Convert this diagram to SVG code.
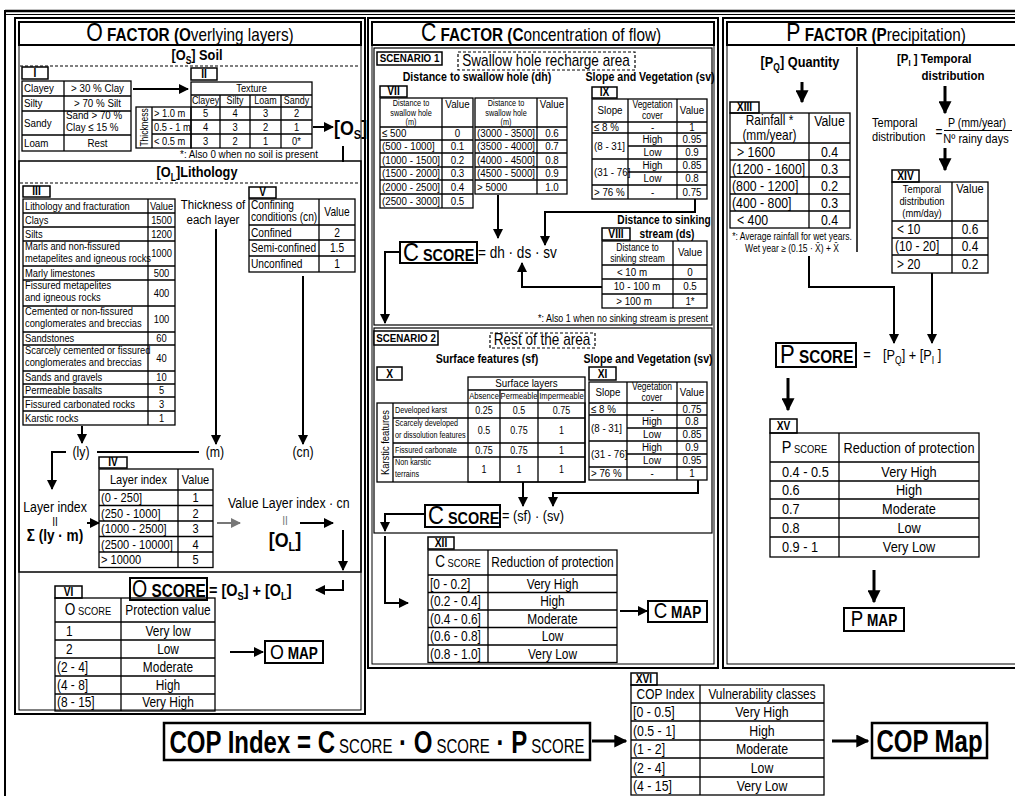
<svg xmlns="http://www.w3.org/2000/svg" width="1015" height="796" viewBox="0 0 1015 796">
<defs>
<style>
text{font-family:"Liberation Sans",Arial,Helvetica,sans-serif;fill:#000;text-anchor:middle;transform-box:fill-box;transform-origin:50% 50%;transform:scaleX(.85)}
.s{text-anchor:start;transform-origin:0 50%}
.e{text-anchor:end;transform-origin:100% 50%}
.n{transform:scaleX(.75)}
.b{font-weight:bold}
.tb{fill:none;stroke:#000;stroke-width:1.3}
.bx{fill:#fff;stroke:#000;stroke-width:2}
.lb{fill:#fff;stroke:#000;stroke-width:1.5}
.lt{font-weight:bold;font-size:12px}
.c{fill:none;stroke:#000;stroke-width:2}
.ct{fill:none;stroke:#000;stroke-width:3}
.dash{fill:none;stroke:#000;stroke-width:1.2;stroke-dasharray:3 2}
</style>
<marker id="a" viewBox="0 0 10 10" refX="9" refY="5" markerWidth="10" markerHeight="10" markerUnits="userSpaceOnUse" orient="auto"><path d="M0 0L10 5L0 10z" fill="#000"/></marker>
<marker id="A" viewBox="0 0 10 10" refX="9" refY="5" markerWidth="13" markerHeight="13" markerUnits="userSpaceOnUse" orient="auto"><path d="M0 0L10 5L0 10z" fill="#000"/></marker>
<marker id="g" viewBox="0 0 10 10" refX="9" refY="5" markerWidth="10" markerHeight="10" markerUnits="userSpaceOnUse" orient="auto"><path d="M0 0L10 5L0 10z" fill="#777"/></marker>
</defs>
<rect width="1015" height="796" fill="#fff"/>

<g id="frame">
<line x1="5" y1="11" x2="1015" y2="11" stroke="#000" stroke-width="2.5"/>
<line x1="5" y1="14.5" x2="1015" y2="14.5" stroke="#000" stroke-width="1"/>
<line x1="5" y1="10" x2="5" y2="796" stroke="#000" stroke-width="2"/>
</g>

<!-- ================= O FACTOR ================= -->
<g id="o-panel">
<rect x="15" y="18" width="350" height="696" fill="none" stroke="#000" stroke-width="2"/>
<rect x="19" y="22" width="342" height="688" fill="none" stroke="#000" stroke-width="1"/>
<rect x="19" y="22" width="342" height="23" class="bx"/>
<text x="190" y="41" font-size="18"><tspan font-size="25">O</tspan><tspan class="b"> FACTOR (O</tspan>verlying layers)</text>
<text x="197" y="60" font-size="15" class="b">[O<tspan font-size="10" dy="4">S</tspan><tspan dy="-4">] Soil</tspan></text>
<line x1="20" y1="66" x2="360" y2="66" class="dash"/>
</g>

<g id="table-I">
<rect x="22" y="67" width="26" height="12" class="lb"/>
<text x="35" y="77" class="lt">I</text>
<rect x="22" y="81" width="109" height="70" class="tb"/>
<path d="M64 81V151M22 96H131M22 111H131M22 135H131" class="tb"/>
<g font-size="11.5">
<text x="24" y="92.5" class="s">Clayey</text><text x="97.5" y="92.5">&gt; 30 % Clay</text>
<text x="24" y="107.5" class="s">Silty</text><text x="97.5" y="107.5">&gt; 70 % Silt</text>
<text x="24" y="127" class="s">Sandy</text><text x="66" y="119.5" class="s">Sand &gt; 70 %</text><text x="66" y="131.5" class="s">Clay ≤  15 %</text>
<text x="24" y="147" class="s">Loam</text><text x="97.5" y="147">Rest</text>
</g>
</g>

<g id="table-II">
<rect x="191" y="68" width="26" height="12" class="lb"/>
<text x="204" y="78" class="lt">II</text>
<rect x="191" y="82" width="121" height="66" class="tb"/>
<rect x="136" y="107" width="55" height="41" class="tb"/>
<path d="M191 95H312M191 107H312M152 120H312M152 134H312M152 107V148M220 95V148M250 95V148M281 95V148" class="tb"/>
<text x="251.5" y="92" font-size="11">Texture</text>
<g font-size="10.5">
<text x="205.5" y="104.5">Clayey</text><text x="235" y="104.5">Silty</text><text x="265.5" y="104.5">Loam</text><text x="296.5" y="104.5">Sandy</text>
</g>
<g transform="translate(147.5,127.5) rotate(-90)"><text x="0" y="0" font-size="10">Thickness</text></g>
<g font-size="11">
<text x="154" y="117.5" class="s">&gt; 1.0 m</text><text x="205.5" y="117.5">5</text><text x="235" y="117.5">4</text><text x="265.5" y="117.5">3</text><text x="296.5" y="117.5">2</text>
<text x="154" y="131" class="s">0.5 - 1 m</text><text x="205.5" y="131">4</text><text x="235" y="131">3</text><text x="265.5" y="131">2</text><text x="296.5" y="131">1</text>
<text x="154" y="145" class="s">&lt; 0.5 m</text><text x="205.5" y="145">3</text><text x="235" y="145">2</text><text x="265.5" y="145">1</text><text x="296.5" y="145">0*</text>
</g>
<text x="249" y="158" font-size="11.5">*: Also 0 when no soil is present</text>
</g>

<g id="os-result">
<text x="334" y="135" font-size="21" class="b s">[O<tspan font-size="13" dy="4">S</tspan><tspan dy="-4">]</tspan></text>
</g>

<g id="lithology">
<rect x="19" y="161" width="342" height="411" fill="none" stroke="#000" stroke-width="1.5"/>
<text x="197" y="177" font-size="15" class="b">[O<tspan font-size="10" dy="4">L</tspan><tspan dy="-4">]Lithology</tspan></text>
<line x1="20" y1="183" x2="360" y2="183" class="dash"/>
</g>

<g id="table-III">
<rect x="23" y="186" width="27" height="11" class="lb"/>
<text x="36.5" y="195.5" class="lt">III</text>
<rect x="23" y="199" width="152" height="226" class="tb"/>
<path d="M148 199V425M23 213H175M23 227H175M23 241H175M23 266H175M23 280H175M23 306H175M23 332H175M23 345H175M23 371H175M23 384H175M23 397H175M23 411H175" class="tb"/>
<g font-size="11">
<text x="25" y="210" class="s">Lithology and fracturation</text><text x="161.5" y="210">Value</text>
<text x="25" y="224" class="s">Clays</text><text x="161.5" y="224">1500</text>
<text x="25" y="238" class="s">Silts</text><text x="161.5" y="238">1200</text>
<text x="25" y="250" class="s">Marls and non-fissured</text><text x="25" y="262" class="s">metapelites and igneous rocks</text><text x="161.5" y="257.5">1000</text>
<text x="25" y="277" class="s">Marly limestones</text><text x="161.5" y="277">500</text>
<text x="25" y="289.5" class="s">Fissured metapelites</text><text x="25" y="301.5" class="s">and igneous rocks</text><text x="161.5" y="297">400</text>
<text x="25" y="315.5" class="s">Cemented or non-fissured</text><text x="25" y="327.5" class="s">conglomerates and  breccias</text><text x="161.5" y="323">100</text>
<text x="25" y="342.5" class="s">Sandstones</text><text x="161.5" y="342.5">60</text>
<text x="25" y="354.5" class="s">Scarcely cemented or fissured</text><text x="25" y="366.5" class="s">conglomerates and  breccias</text><text x="161.5" y="362">40</text>
<text x="25" y="381.5" class="s">Sands and gravels</text><text x="161.5" y="381.5">10</text>
<text x="25" y="394.5" class="s">Permeable basalts</text><text x="161.5" y="394.5">5</text>
<text x="25" y="408" class="s">Fissured carbonated rocks</text><text x="161.5" y="408">3</text>
<text x="25" y="422" class="s">Karstic rocks</text><text x="161.5" y="422">1</text>
</g>
</g>

<g id="thickness">
<text x="213" y="209" font-size="13.5">Thickness of</text>
<text x="213" y="224" font-size="13.5">each layer</text>
</g>

<g id="table-V">
<rect x="249" y="187" width="27" height="11" class="lb"/>
<text x="262.5" y="196.5" class="lt">V</text>
<rect x="249" y="199" width="106" height="73" class="tb"/>
<path d="M319 199V272M249 225H355M249 240H355M249 256H355" class="tb"/>
<g font-size="12">
<text x="251" y="209" class="s">Confining</text><text x="251" y="221.5" class="s">conditions (cn)</text><text x="337" y="216">Value</text>
<text x="251" y="237" class="s">Confined</text><text x="337" y="237">2</text>
<text x="251" y="252" class="s">Semi-confined</text><text x="337" y="252">1.5</text>
<text x="251" y="268" class="s">Unconfined</text><text x="337" y="268">1</text>
</g>
</g>

<g id="variables" font-size="14.5">
<text x="81" y="457">(ly)</text>
<text x="215" y="457">(m)</text>
<text x="303" y="457">(cn)</text>
</g>

<g id="layer-index">
<text x="55" y="512" font-size="14.5">Layer index</text>
<text x="55" y="526" font-size="12">II</text>
<text x="55" y="541" font-size="16" class="b">Σ (ly · m)</text>
</g>

<g id="table-IV">
<rect x="99" y="457" width="28" height="11" class="lb"/>
<text x="113" y="466.5" class="lt">IV</text>
<rect x="99" y="469" width="114" height="98.5" class="tb"/>
<path d="M178 469V567.5M99 490H213M99 505.5H213M99 521H213M99 536.5H213M99 552H213" class="tb"/>
<g font-size="13">
<text x="138.5" y="484">Layer index</text><text x="195.5" y="484">Value</text>
<text x="101" y="502.3" class="s">(0 - 250]</text><text x="195.5" y="502.3">1</text>
<text x="101" y="517.8" class="s">(250 - 1000]</text><text x="195.5" y="517.8">2</text>
<text x="101" y="533.3" class="s">(1000 - 2500]</text><text x="195.5" y="533.3">3</text>
<text x="101" y="548.8" class="s">(2500 - 10000]</text><text x="195.5" y="548.8">4</text>
<text x="101" y="564.3" class="s">&gt; 10000</text><text x="195.5" y="564.3">5</text>
</g>
</g>

<g id="ol-value">
<text x="228" y="508" font-size="14.5" class="s">Value Layer index · cn</text>
<text x="285" y="525" font-size="12" style="fill:#777">II</text>
<text x="285" y="547" font-size="21" class="b">[O<tspan font-size="13" dy="4">L</tspan><tspan dy="-4">]</tspan></text>
</g>

<g id="o-score">
<rect x="130" y="578" width="77" height="22" class="bx"/>
<text x="132" y="597" class="s" font-size="18"><tspan font-size="23">O</tspan><tspan class="b"> SCORE</tspan></text>
<text x="209" y="596" class="s b" font-size="17">= [O<tspan font-size="11" dy="4">S</tspan><tspan dy="-4">] + [O</tspan><tspan font-size="11" dy="4">L</tspan><tspan dy="-4">]</tspan></text>
</g>

<g id="table-VI">
<rect x="55" y="586" width="27" height="12" class="lb"/>
<text x="68.5" y="596" class="lt">VI</text>
<rect x="55" y="598" width="160" height="113" class="tb"/>
<path d="M121 598V711M55 622H215M55 640H215M55 658H215M55 676H215M55 694H215" class="tb"/>
<g font-size="14">
<text x="88" y="615"><tspan font-size="16">O</tspan><tspan font-size="11"> SCORE</tspan></text><text x="168" y="615">Protection value</text>
<text x="66" y="636" class="s">1</text><text x="168" y="636">Very low</text>
<text x="66" y="654" class="s">2</text><text x="168" y="654">Low</text>
<text x="57" y="672" class="s">(2 - 4]</text><text x="168" y="672">Moderate</text>
<text x="57" y="690" class="s">(4 - 8]</text><text x="168" y="690">High</text>
<text x="57" y="707.5" class="s">(8 - 15]</text><text x="168" y="707.5">Very High</text>
</g>
</g>

<g id="o-map">
<rect x="265" y="641" width="58" height="22" class="bx"/>
<text x="294" y="659" font-size="16"><tspan font-size="21">O</tspan><tspan class="b"> MAP</tspan></text>
</g>

<!-- ================= C FACTOR ================= -->
<g id="c-panel">
<rect x="368" y="18" width="350" height="650" fill="none" stroke="#000" stroke-width="2"/>
<rect x="372" y="22" width="342" height="642" fill="none" stroke="#000" stroke-width="1"/>
<rect x="372" y="22" width="342" height="23" class="bx"/>
<text x="541" y="41" font-size="18"><tspan font-size="25">C</tspan><tspan class="b"> FACTOR (C</tspan>oncentration of flow)</text>
</g>

<g id="scenario-1">
<rect x="374" y="48" width="338" height="277" fill="none" stroke="#000" stroke-width="1.2"/>
<rect x="377" y="52" width="65" height="13" class="lb"/>
<text x="409.5" y="62.5" font-size="11.5" class="b">SCENARIO 1</text>
<rect x="458" y="52" width="177" height="18" class="dash"/>
<text x="546" y="66" font-size="16">Swallow hole recharge area</text>
<text x="477" y="81" font-size="12.5" class="b">Distance to swallow hole (dh)</text>
<text x="650" y="81" font-size="12.5" class="b">Slope and Vegetation (sv)</text>
</g>

<g id="table-VII">
<rect x="380" y="86" width="27" height="11" class="lb"/>
<text x="393.5" y="95.5" class="lt">VII</text>
<rect x="380" y="98" width="93" height="110" class="tb"/>
<rect x="475" y="98" width="92" height="96" class="tb"/>
<path d="M442 98V208M380 127H473M380 140H473M380 153H473M380 167H473M380 180H473M380 194H473M537 98V194M475 127H567M475 140H567M475 153H567M475 167H567M475 180H567" class="tb"/>
<g font-size="8.6">
<text x="411" y="106">Distance to</text><text x="411" y="115.6">swallow hole</text><text x="411" y="125.2">(m)</text>
<text x="506" y="106">Distance to</text><text x="506" y="115.6">swallow hole</text><text x="506" y="125.2">(m)</text>
</g>
<g font-size="11.5">
<text x="457.5" y="108">Value</text><text x="552" y="108">Value</text>
<text x="382" y="137.5" class="s">≤ 500</text><text x="457.5" y="137.5">0</text>
<text x="382" y="150.5" class="s">(500 - 1000]</text><text x="457.5" y="150.5">0.1</text>
<text x="382" y="164" class="s">(1000 - 1500]</text><text x="457.5" y="164">0.2</text>
<text x="382" y="177.5" class="s">(1500 - 2000]</text><text x="457.5" y="177.5">0.3</text>
<text x="382" y="191" class="s">(2000 - 2500]</text><text x="457.5" y="191">0.4</text>
<text x="382" y="205" class="s">(2500 - 3000]</text><text x="457.5" y="205">0.5</text>
<text x="477" y="137.5" class="s">(3000 - 3500]</text><text x="552" y="137.5">0.6</text>
<text x="477" y="150.5" class="s">(3500 - 4000]</text><text x="552" y="150.5">0.7</text>
<text x="477" y="164" class="s">(4000 - 4500]</text><text x="552" y="164">0.8</text>
<text x="477" y="177.5" class="s">(4500 - 5000]</text><text x="552" y="177.5">0.9</text>
<text x="477" y="191" class="s">&gt; 5000</text><text x="552" y="191">1.0</text>
</g>
</g>

<g id="table-IX">
<rect x="592" y="87" width="25" height="11" class="lb"/>
<text x="604.5" y="96.5" class="lt">IX</text>
<rect x="592" y="99" width="115" height="100" class="tb"/>
<path d="M628 99V199M677 99V199M592 122H707M592 133H707M628 146H707M592 159H707M628 172H707M592 185H707" class="tb"/>
<text x="652.5" y="108.5" font-size="10">Vegetation</text><text x="652.5" y="119.5" font-size="10">cover</text>
<g font-size="11.5">
<text x="610" y="114.5">Slope</text><text x="692" y="114.5">Value</text>
<text x="594" y="131.5" class="s">≤ 8 %</text><text x="652.5" y="131.5">-</text><text x="692" y="131.5">1</text>
<text x="594" y="150" class="s">(8 - 31]</text><text x="652.5" y="143.5">High</text><text x="692" y="143.5">0.95</text><text x="652.5" y="156.5">Low</text><text x="692" y="156.5">0.9</text>
<text x="594" y="176" class="s">(31 - 76]</text><text x="652.5" y="169.5">High</text><text x="692" y="169.5">0.85</text><text x="652.5" y="182.5">Low</text><text x="692" y="182.5">0.8</text>
<text x="594" y="196" class="s">&gt; 76 %</text><text x="652.5" y="196">-</text><text x="692" y="196">0.75</text>
</g>
</g>

<g id="c-score-1">
<rect x="400" y="242" width="77" height="21" class="bx"/>
<text x="403" y="261" class="s" font-size="17"><tspan font-size="26">C</tspan><tspan class="b"> SCORE</tspan></text>
<text x="478" y="258" class="s" font-size="16">= dh · ds · sv</text>
</g>

<g id="table-VIII">
<text x="664" y="224" font-size="12" class="b">Distance to sinking</text>
<text x="667" y="238" font-size="12" class="b">stream (ds)</text>
<rect x="602" y="228" width="28" height="12" class="lb"/>
<text x="616" y="238" class="lt">VIII</text>
<rect x="602" y="241" width="105" height="67" class="tb"/>
<path d="M673 241V308M602 265H707M602 279H707M602 294H707" class="tb"/>
<text x="637.5" y="251" font-size="10">Distance to</text><text x="637.5" y="262" font-size="10">sinking stream</text>
<g font-size="11.5">
<text x="690" y="256.5">Value</text>
<text x="632" y="276">&lt; 10 m</text><text x="690" y="276">0</text>
<text x="637" y="290.5">10 - 100 m</text><text x="690" y="290.5">0.5</text>
<text x="634" y="305">&gt; 100 m</text><text x="690" y="305">1*</text>
</g>
<text x="708" y="322" font-size="10.5" class="e">*: Also 1 when no sinking stream is present</text>
</g>

<g id="scenario-2">
<rect x="374" y="328" width="338" height="205" fill="none" stroke="#000" stroke-width="1.2"/>
<rect x="374" y="331" width="64" height="14" class="lb"/>
<text x="406" y="342" font-size="11.5" class="b">SCENARIO 2</text>
<rect x="490" y="333" width="105" height="15" class="dash"/>
<text x="542" y="345.5" font-size="16">Rest of the area</text>
<text x="487" y="363" font-size="12.5" class="b">Surface features (sf)</text>
<text x="648" y="363" font-size="12.5" class="b">Slope and Vegetation (sv)</text>
</g>

<g id="table-X">
<rect x="377" y="367" width="25" height="13" class="lb"/>
<text x="389.5" y="378" class="lt" font-size="13">X</text>
<rect x="468" y="377" width="117" height="105" class="tb"/>
<rect x="377" y="403" width="208" height="79" class="tb"/>
<path d="M468 390H585M500 390V482M538 390V482M393 403V482M393 418H585M393 443H585M393 457H585" class="tb"/>
<text x="526.5" y="387.5" font-size="11.5">Surface layers</text>
<g font-size="9">
<text x="484" y="399.5">Absence</text><text x="519" y="399.5">Permeable</text><text x="561.5" y="399.5">Impermeable</text>
</g>
<g transform="translate(389,442.5) rotate(-90)"><text x="0" y="0" font-size="11">Karstic features</text></g>
<g font-size="8.5">
<text x="395" y="413.5" class="s">Developed karst</text>
<text x="395" y="426.5" class="s">Scarcely developed</text><text x="395" y="438" class="s">or dissolution features</text>
<text x="395" y="453.3" class="s">Fissured carbonate</text>
<text x="395" y="465.5" class="s">Non karstic</text><text x="395" y="477" class="s">terrains</text>
</g>
<g font-size="10.5">
<text x="484" y="414">0.25</text><text x="519" y="414">0.5</text><text x="561.5" y="414">0.75</text>
<text x="484" y="434">0.5</text><text x="519" y="434">0.75</text><text x="561.5" y="434">1</text>
<text x="484" y="454">0.75</text><text x="519" y="454">0.75</text><text x="561.5" y="454">1</text>
<text x="484" y="473.5">1</text><text x="519" y="473.5">1</text><text x="561.5" y="473.5">1</text>
</g>
</g>

<g id="table-XI">
<rect x="589" y="367" width="27" height="13" class="lb"/>
<text x="602.5" y="378" class="lt" font-size="13">XI</text>
<rect x="589" y="382" width="118" height="98" class="tb"/>
<path d="M627 382V480M677 382V480M589 403H707M589 415H707M627 428H707M589 441H707M627 454H707M589 467H707" class="tb"/>
<text x="652" y="390.5" font-size="10">Vegetation</text><text x="652" y="401.5" font-size="10">cover</text>
<g font-size="11.5">
<text x="608" y="396.5">Slope</text><text x="692" y="396.5">Value</text>
<text x="591" y="413" class="s">≤ 8 %</text><text x="652" y="413">-</text><text x="692" y="413">0.75</text>
<text x="591" y="432" class="s">(8 - 31]</text><text x="652" y="425.5">High</text><text x="692" y="425.5">0.8</text><text x="652" y="438.5">Low</text><text x="692" y="438.5">0.85</text>
<text x="591" y="458" class="s">(31 - 76]</text><text x="652" y="451.5">High</text><text x="692" y="451.5">0.9</text><text x="652" y="464.5">Low</text><text x="692" y="464.5">0.95</text>
<text x="591" y="477.5" class="s">&gt; 76 %</text><text x="652" y="477.5">-</text><text x="692" y="477.5">1</text>
</g>
</g>

<g id="c-score-2">
<rect x="425" y="505" width="75" height="22" class="bx"/>
<text x="428" y="524" class="s" font-size="17"><tspan font-size="26">C</tspan><tspan class="b"> SCORE</tspan></text>
<text x="502" y="521" class="s" font-size="15">= (sf) · (sv)</text>
</g>

<g id="table-XII">
<rect x="428" y="537" width="26" height="12" class="lb"/>
<text x="441" y="547" class="lt">XII</text>
<rect x="428" y="550" width="189" height="112.5" class="tb"/>
<path d="M488 550V662.5M428 575H617M428 592.5H617M428 610H617M428 627.5H617M428 645H617" class="tb"/>
<g font-size="14">
<text x="458" y="567.5"><tspan font-size="16">C</tspan><tspan font-size="11"> SCORE</tspan></text><text x="552.5" y="567.5">Reduction of protection</text>
<text x="430" y="588.8" class="s">[0 - 0.2]</text><text x="552.5" y="588.8">Very High</text>
<text x="430" y="606.3" class="s">(0.2 - 0.4]</text><text x="552.5" y="606.3">High</text>
<text x="430" y="623.8" class="s">(0.4 - 0.6]</text><text x="552.5" y="623.8">Moderate</text>
<text x="430" y="641.3" class="s">(0.6 - 0.8]</text><text x="552.5" y="641.3">Low</text>
<text x="430" y="658.8" class="s">(0.8 - 1.0]</text><text x="552.5" y="658.8">Very Low</text>
</g>
</g>

<g id="c-map">
<rect x="648" y="601" width="59" height="21" class="bx"/>
<text x="677.5" y="618.5" font-size="16"><tspan font-size="22">C</tspan><tspan class="b"> MAP</tspan></text>
</g>

<!-- ================= P FACTOR ================= -->
<g id="p-panel">
<rect x="723" y="18" width="310" height="650" fill="none" stroke="#000" stroke-width="2"/>
<rect x="727" y="22" width="310" height="642" fill="none" stroke="#000" stroke-width="1"/>
<rect x="727" y="22" width="310" height="23" class="bx"/>
<text x="876" y="41" font-size="18"><tspan font-size="25">P</tspan><tspan class="b"> FACTOR (P</tspan>recipitation)</text>
<line x1="857" y1="47" x2="857" y2="252" stroke="#000" stroke-width="1.5"/>
<text x="800" y="67" font-size="15" class="b">[P<tspan font-size="10" dy="4">Q</tspan><tspan dy="-4">] Quantity</tspan></text>
<text x="897" y="63" font-size="13.5" class="b s">[P<tspan font-size="9" dy="3">I</tspan><tspan dy="-3"> ] Temporal</tspan></text>
<text x="953" y="80" font-size="13.5" class="b">distribution</text>
</g>

<g id="table-XIII">
<rect x="730" y="102" width="29" height="11" class="lb"/>
<text x="744.5" y="111.5" class="lt">XIII</text>
<rect x="730" y="113" width="120" height="115" class="tb"/>
<path d="M809 113V228M730 143H850M730 160H850M730 177H850M730 194H850M730 211H850" class="tb"/>
<g font-size="14.5">
<text x="769.5" y="125.5" font-size="14">Rainfall *</text><text x="769.5" y="140" font-size="14">(mm/year)</text><text x="829.5" y="126">Value</text>
<text x="737" y="156.7" class="s">&gt; 1600</text><text x="829.5" y="156.7">0.4</text>
<text x="732" y="173.7" class="s">(1200 - 1600]</text><text x="829.5" y="173.7">0.3</text>
<text x="732" y="190.7" class="s">(800 - 1200]</text><text x="829.5" y="190.7">0.2</text>
<text x="732" y="207.7" class="s">(400 - 800]</text><text x="829.5" y="207.7">0.3</text>
<text x="737" y="224.7" class="s">&lt; 400</text><text x="829.5" y="224.7">0.4</text>
</g>
<text x="792" y="240" font-size="10">*: Average rainfall for wet years.</text>
<text x="792" y="252" font-size="10">Wet year ≥ (0.15 · X̄) + X̄</text>
</g>

<g id="temporal-formula">
<text x="872" y="127" font-size="13" class="s">Temporal</text>
<text x="872" y="141" font-size="13" class="s">distribution</text>
<text x="939" y="137" font-size="14">=</text>
<text x="977" y="127" font-size="12.5">P (mm/year)</text>
<line x1="944" y1="130.5" x2="1012" y2="130.5" stroke="#000" stroke-width="1"/>
<text x="976" y="143" font-size="13">Nº rainy days</text>
</g>

<g id="table-XIV">
<rect x="892" y="170" width="27" height="12" class="lb"/>
<text x="905.5" y="180" class="lt">XIV</text>
<rect x="892" y="182" width="96" height="91" class="tb"/>
<path d="M952 182V273M892 221H988M892 238H988M892 255H988" class="tb"/>
<g font-size="11">
<text x="922" y="193">Temporal</text><text x="922" y="205">distribution</text><text x="922" y="217">(mm/day)</text>
</g>
<text x="970" y="193.5" font-size="13">Value</text>
<g font-size="14">
<text x="897" y="234.5" class="s">&lt; 10</text><text x="970" y="234.5">0.6</text>
<text x="895" y="251.5" class="s">(10 - 20]</text><text x="970" y="251.5">0.4</text>
<text x="897" y="269" class="s">&gt; 20</text><text x="970" y="269">0.2</text>
</g>
</g>

<g id="p-score">
<rect x="776" y="343" width="80" height="24" class="bx"/>
<text x="780" y="363" class="s" font-size="18"><tspan font-size="26">P</tspan><tspan class="b"> SCORE</tspan></text>
<text x="867" y="360" font-size="15">=</text>
<text x="883" y="360" class="s" font-size="15">[P<tspan font-size="10" dy="4">Q</tspan><tspan dy="-4">] + [P</tspan><tspan font-size="10" dy="4">I</tspan><tspan dy="-4"> ]</tspan></text>
</g>

<g id="table-XV">
<rect x="770" y="419" width="27" height="14" class="lb"/>
<text x="783.5" y="430.5" class="lt" font-size="13">XV</text>
<rect x="770" y="433" width="209" height="124" class="tb"/>
<path d="M839 433V557M770 462H979M770 481H979M770 499H979M770 518H979M770 537H979" class="tb"/>
<g font-size="15">
<text x="804.5" y="453"><tspan font-size="17">P</tspan><tspan font-size="11"> SCORE</tspan></text><text x="909" y="453">Reduction of protection</text>
<text x="782" y="477" class="s">0.4 - 0.5</text><text x="909" y="477">Very High</text>
<text x="782" y="495.4" class="s">0.6</text><text x="909" y="495.4">High</text>
<text x="782" y="514" class="s">0.7</text><text x="909" y="514">Moderate</text>
<text x="782" y="533" class="s">0.8</text><text x="909" y="533">Low</text>
<text x="782" y="552.4" class="s">0.9 - 1</text><text x="909" y="552.4">Very Low</text>
</g>
</g>

<g id="p-map">
<rect x="844" y="608" width="60" height="23" class="bx"/>
<text x="874" y="626.5" font-size="16"><tspan font-size="22">P</tspan><tspan class="b"> MAP</tspan></text>
</g>

<!-- ================= COP ================= -->
<g id="cop-index">
<rect x="164" y="723" width="426" height="37" fill="#fff" stroke="#000" stroke-width="2.5"/>
<text x="377" y="753" class="n b" font-size="32">COP Index = C<tspan font-size="20" font-weight="normal"> SCORE</tspan> · O<tspan font-size="20" font-weight="normal"> SCORE</tspan> · P<tspan font-size="20" font-weight="normal"> SCORE</tspan></text>
</g>

<g id="table-XVI">
<rect x="631" y="673" width="26" height="12" class="lb"/>
<text x="644" y="683" class="lt">XVI</text>
<rect x="631" y="685" width="193" height="110" class="tb"/>
<path d="M700 685V795M631 703H824M631 721H824M631 740H824M631 758H824M631 777H824" class="tb"/>
<text x="665.5" y="699" font-size="14">COP Index</text><text x="762" y="699" font-size="14">Vulnerability classes</text>
<g font-size="14.5">
<text x="633" y="717.2" class="s">[0 - 0.5]</text><text x="762" y="717.2">Very High</text>
<text x="633" y="735.7" class="s">(0.5 - 1]</text><text x="762" y="735.7">High</text>
<text x="633" y="754.2" class="s">(1 - 2]</text><text x="762" y="754.2">Moderate</text>
<text x="633" y="772.7" class="s">(2 - 4]</text><text x="762" y="772.7">Low</text>
<text x="633" y="791.2" class="s">(4 - 15]</text><text x="762" y="791.2">Very Low</text>
</g>
</g>

<g id="cop-map">
<rect x="872" y="723" width="115" height="35" fill="#fff" stroke="#000" stroke-width="2.5"/>
<text x="929.5" y="752" class="n b" font-size="32">COP Map</text>
</g>

<!-- ================= CONNECTORS ================= -->
<g id="connectors">
<path d="M133 89H188" class="c" marker-end="url(#a)"/>
<path d="M313 127H333" class="c" marker-end="url(#a)"/>
<path d="M343 146V162" class="c"/>
<path d="M82 426V443" class="c" marker-end="url(#a)"/>
<path d="M216 229V444" class="c" marker-end="url(#a)"/>
<path d="M303 276V444" class="c" marker-end="url(#a)"/>
<path d="M97 452H199" class="c"/>
<path d="M66 452H52V489" class="c" marker-end="url(#a)"/>
<path d="M87 523H99" class="c" marker-end="url(#a)"/>
<path d="M217 523H240" fill="none" stroke="#777" stroke-width="2" marker-end="url(#g)"/>
<path d="M300 523H333" class="c" marker-end="url(#a)"/>
<path d="M343 530V570" class="c" marker-end="url(#a)"/>
<path d="M343 580V590H316" class="c" marker-end="url(#a)"/>
<path d="M230 652H263" class="c" marker-end="url(#a)"/>
<path d="M498 195V238" class="c" marker-end="url(#a)"/>
<path d="M695 199V212H545V245" class="c" marker-end="url(#a)"/>
<path d="M602 287H522V263" class="c" marker-end="url(#a)"/>
<path d="M400 252H385V323" class="c" marker-end="url(#a)"/>
<path d="M523 482V506" class="c" marker-end="url(#a)"/>
<path d="M698 480V493H553V506" class="c" marker-end="url(#a)"/>
<path d="M425 514H385V531" class="c" marker-end="url(#a)"/>
<path d="M385 536V603H408" class="c" marker-end="url(#a)"/>
<path d="M620 611H647" class="c" marker-end="url(#a)"/>
<path d="M802 82V102" class="ct" marker-end="url(#A)"/>
<path d="M945 86V113" class="ct" marker-end="url(#A)"/>
<path d="M945 148V170" class="ct" marker-end="url(#A)"/>
<path d="M809 256V287H894V343" class="c" marker-end="url(#a)"/>
<path d="M932 273V343" class="c" marker-end="url(#a)"/>
<path d="M788 378V410" class="ct" marker-end="url(#A)"/>
<path d="M874 570V602" class="ct" marker-end="url(#A)"/>
<path d="M592 741H626" class="ct" marker-end="url(#A)"/>
<path d="M832 741H868" class="ct" marker-end="url(#A)"/>
</g>
</svg>
